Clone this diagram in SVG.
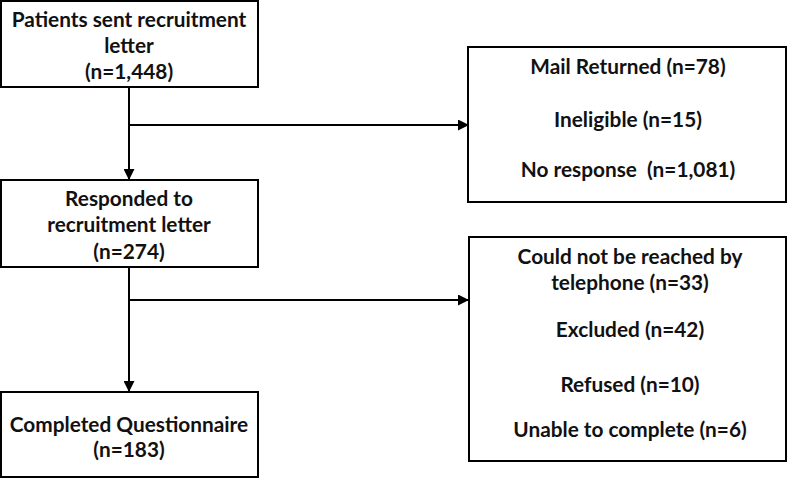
<svg xmlns="http://www.w3.org/2000/svg" width="788" height="478" viewBox="0 0 788 478">
<style>
.box{fill:#fff;stroke:#000;stroke-width:2}
.t{font-family:Lato,"Liberation Sans",sans-serif;font-size:20.8px;font-weight:bold;fill:#111;text-anchor:middle;white-space:pre}
.c{stroke:#000;stroke-width:2;fill:none}
</style>
<defs>
<marker id="a" viewBox="0 0 10 10" refX="10" refY="5" markerWidth="5.5" markerHeight="5.5" orient="auto" markerUnits="strokeWidth">
<path d="M0,0 L10,5 L0,10 z" fill="#000"/>
</marker>
</defs>
<rect width="788" height="478" fill="#fff"/>
<g id="connectors">
<line class="c" x1="129" y1="87" x2="129" y2="180" marker-end="url(#a)"/>
<line class="c" x1="129" y1="125" x2="469" y2="125" marker-end="url(#a)"/>
<line class="c" x1="129" y1="267" x2="129" y2="392" marker-end="url(#a)"/>
<line class="c" x1="129" y1="300" x2="469" y2="300" marker-end="url(#a)"/>
</g>
<g id="n1">
<rect class="box" x="1" y="1" width="257" height="86"/>
<text class="t" x="129" y="27">Patients sent recruitment</text>
<text class="t" x="129" y="53">letter</text>
<text class="t" x="129" y="79">(n=1,448)</text>
</g>
<g id="n2">
<rect class="box" x="1" y="180" width="257" height="87"/>
<text class="t" x="129" y="206">Responded to</text>
<text class="t" x="129" y="232">recruitment letter</text>
<text class="t" x="129" y="259">(n=274)</text>
</g>
<g id="n3">
<rect class="box" x="1" y="392" width="257" height="85"/>
<text class="t" x="129" y="432">Completed Questionnaire</text>
<text class="t" x="129" y="457">(n=183)</text>
</g>
<g id="n4">
<rect class="box" x="468" y="47" width="318" height="155"/>
<text class="t" x="628" y="74">Mail Returned (n=78)</text>
<text class="t" x="628" y="127">Ineligible (n=15)</text>
<text class="t" x="628" y="177" xml:space="preserve">No response  (n=1,081)</text>
</g>
<g id="n5">
<rect class="box" x="469" y="237" width="317" height="224"/>
<text class="t" x="630" y="264">Could not be reached by</text>
<text class="t" x="630" y="290">telephone (n=33)</text>
<text class="t" x="630" y="337">Excluded (n=42)</text>
<text class="t" x="630" y="392">Refused (n=10)</text>
<text class="t" x="630" y="437">Unable to complete (n=6)</text>
</g>
</svg>
